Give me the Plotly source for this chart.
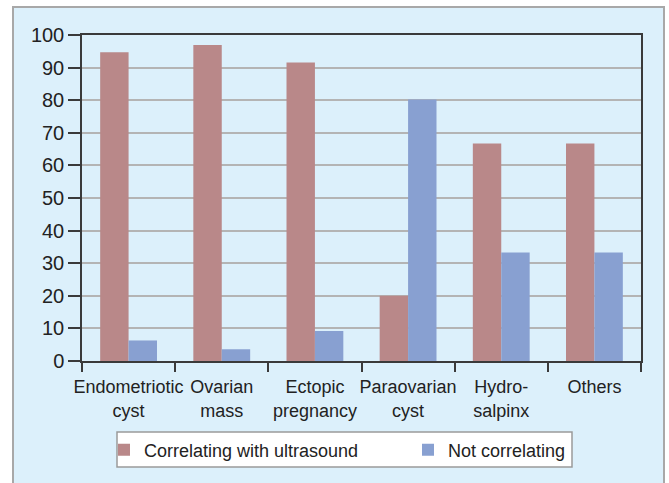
import plotly.graph_objects as go

categories = ["Endometriotic<br>cyst", "Ovarian<br>mass", "Ectopic<br>pregnancy",
              "Paraovarian<br>cyst", "Hydro-<br>salpinx", "Others"]
correlating = [94.7, 96.9, 91.6, 20.0, 66.7, 66.7]
not_correlating = [6.3, 3.6, 9.2, 80.2, 33.3, 33.3]
y_ticks = list(range(0, 101, 10))

FONT = "Liberation Sans, Arial, sans-serif"
RED = "#b98889"
BLUE = "#88a0d1"

fig = go.Figure()
fig.add_trace(go.Bar(x=categories, y=correlating, name="Correlating with ultrasound",
                     marker=dict(color=RED, line=dict(width=0)), legend="legend"))
fig.add_trace(go.Bar(x=categories, y=not_correlating, name="Not correlating",
                     marker=dict(color=BLUE, line=dict(width=0)), legend="legend2"))

L, R, T, B = 82, 28, 35, 122
W, H = 669, 483
pw, ph = W - L - R, H - T - B

def px(x):
    return (x - L) / pw

def py(y):
    return (H - B - y) / ph

fig.add_shape(type="rect", xref="paper", yref="paper",
              x0=px(13), x1=px(664), y0=py(495), y1=py(7),
              fillcolor="#dcf0fb", line=dict(color="#a8a8a8", width=2), layer="below")
# legend frame
fig.add_shape(type="rect", xref="paper", yref="paper",
              x0=px(117), x1=px(572), y0=py(467), y1=py(432),
              fillcolor="white", line=dict(color="#9a9a9a", width=1.5), layer="above")

leg_common = dict(
    orientation="h", xanchor="left", yanchor="middle",
    bgcolor="rgba(0,0,0,0)", borderwidth=0,
    font=dict(family=FONT, size=18, color="#222222"),
    itemsizing="constant",
)

fig.update_layout(
    width=W, height=H,
    margin=dict(l=L, r=R, t=T, b=B, autoexpand=False),
    paper_bgcolor="white",
    plot_bgcolor="white",
    barmode="group",
    bargap=0.39,
    bargroupgap=0,
    font=dict(family=FONT, size=18, color="#222222"),
    showlegend=True,
    legend=dict(x=px(104), y=py(450), **leg_common),
    legend2=dict(x=px(408), y=py(450), **leg_common),
)
fig.update_xaxes(
    type="category",
    showline=True, linecolor="#3a3a3a", linewidth=1.5, mirror=True,
    ticks="outside", tickson="boundaries", ticklen=9, tickcolor="#3a3a3a", tickwidth=1.5,
    showgrid=False, tickangle=0, automargin=False, ticklabelstandoff=9,
    tickfont=dict(family=FONT, size=18, color="#222222"),
)
fig.update_yaxes(
    range=[0, 100], tickvals=y_ticks, automargin=False,
    showline=True, linecolor="#3a3a3a", linewidth=1.5, mirror=True,
    ticks="outside", ticklen=12, tickcolor="#3a3a3a", tickwidth=1.5,
    showgrid=True, gridcolor="#b4b4b4", gridwidth=1.5,
    zeroline=False,
    tickfont=dict(family=FONT, size=20, color="#222222"),
)

fig.write_html("out.html")
